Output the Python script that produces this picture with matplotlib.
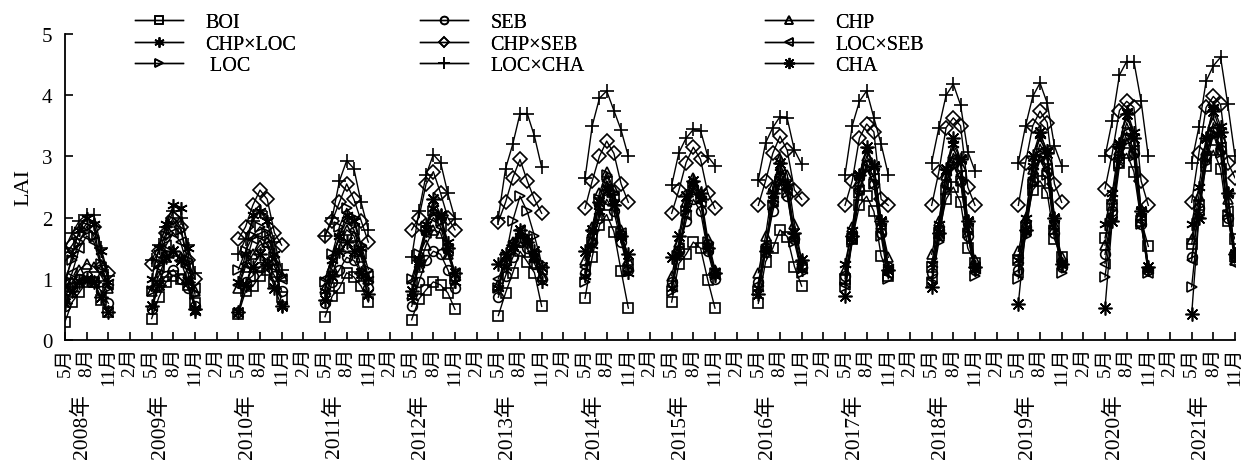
import numpy as np
import matplotlib.pyplot as plt
from matplotlib.transforms import blended_transform_factory

plt.rcParams['font.family'] = ['Liberation Serif', 'Noto Sans CJK SC']

years = list(range(2008, 2022))
months = [5, 6, 7, 8, 9, 10, 11]
tick_names = ['5月', '8月', '11月', '2月']

# LAI per year (May..Nov) for each treatment
BOI = [[0.30, 0.62, 0.78, 0.95, 0.95, 0.66, 0.45],
       [0.35, 0.70, 0.95, 1.05, 1.00, 0.90, 0.60],
       [0.42, 0.80, 0.88, 1.05, 1.15, 0.95, 0.70],
       [0.38, 0.72, 0.85, 1.10, 1.03, 0.88, 0.62],
       [0.33, 0.67, 0.82, 0.95, 0.90, 0.77, 0.50],
       [0.40, 0.77, 1.10, 1.45, 1.28, 1.10, 0.55],
       [0.68, 1.36, 1.88, 2.05, 1.77, 1.13, 0.52],
       [0.62, 1.25, 1.40, 1.60, 1.50, 0.98, 0.52],
       [0.60, 1.28, 1.50, 1.80, 1.69, 1.20, 0.88],
       [1.00, 1.65, 2.20, 2.35, 2.10, 1.38, 1.05],
       [1.20, 1.75, 2.30, 2.50, 2.25, 1.50, 1.26],
       [1.30, 1.85, 2.45, 2.60, 2.40, 1.65, 1.35],
       [1.67, 2.20, 2.90, 3.05, 2.75, 1.95, 1.53],
       [1.57, 2.20, 2.85, 3.10, 2.80, 1.95, 1.65]]
SEB = [[0.55, 0.85, 1.00, 1.05, 0.95, 0.80, 0.60],
       [0.50, 0.90, 1.05, 1.15, 1.00, 0.85, 0.55],
       [0.45, 0.95, 1.05, 1.20, 1.25, 1.05, 0.80],
       [0.60, 0.95, 1.15, 1.35, 1.30, 1.10, 0.85],
       [0.55, 0.95, 1.30, 1.45, 1.40, 1.15, 0.85],
       [0.70, 1.05, 1.35, 1.60, 1.50, 1.25, 1.00],
       [1.10, 1.60, 2.00, 2.30, 2.10, 1.60, 1.15],
       [0.95, 1.45, 1.95, 2.30, 2.10, 1.45, 1.00],
       [0.95, 1.50, 2.10, 2.55, 2.35, 1.65, 1.20],
       [1.05, 1.70, 2.45, 2.85, 2.55, 1.75, 1.20],
       [1.10, 1.80, 2.55, 2.90, 2.60, 1.70, 1.15],
       [1.15, 1.85, 2.60, 3.00, 2.75, 1.75, 1.20],
       [1.40, 2.10, 3.00, 3.30, 3.05, 1.90, 1.15],
       [1.35, 2.15, 3.00, 3.40, 3.10, 2.00, 1.35]]
CHP = [[0.70, 0.95, 1.15, 1.25, 1.20, 1.05, 0.85],
       [0.80, 1.05, 1.35, 1.45, 1.35, 1.10, 0.80],
       [0.85, 1.20, 1.40, 1.55, 1.60, 1.30, 1.05],
       [0.85, 1.20, 1.55, 1.80, 1.70, 1.35, 1.00],
       [0.75, 1.20, 1.55, 1.80, 1.75, 1.40, 1.05],
       [0.90, 1.30, 1.60, 1.75, 1.65, 1.35, 1.05],
       [1.30, 1.85, 2.40, 2.75, 2.45, 1.80, 1.30],
       [1.05, 1.60, 2.25, 2.65, 2.40, 1.65, 1.15],
       [1.10, 1.70, 2.50, 2.95, 2.70, 1.90, 1.30],
       [1.15, 1.85, 2.60, 3.00, 2.80, 1.90, 1.35],
       [1.40, 1.95, 2.70, 3.05, 2.85, 1.85, 1.30],
       [1.45, 2.00, 2.80, 3.20, 2.95, 1.90, 1.35],
       [1.55, 2.30, 3.10, 3.55, 3.25, 2.05, 1.20],
       [1.65, 2.35, 3.10, 3.55, 3.30, 2.30, 1.30]]
CHP_LOC = [[0.90, 1.40, 1.80, 2.00, 1.90, 1.45, 0.95],
           [1.00, 1.50, 1.90, 2.20, 2.15, 1.50, 0.45],
           [0.95, 1.40, 2.05, 2.10, 1.95, 1.40, 0.55],
           [0.80, 1.30, 1.70, 2.05, 1.95, 1.50, 1.00],
           [0.70, 1.25, 1.90, 2.15, 2.05, 1.60, 0.95],
           [0.85, 1.20, 1.50, 1.70, 1.60, 1.35, 0.95],
           [1.05, 1.55, 2.10, 2.50, 2.25, 1.70, 1.10],
           [0.85, 1.40, 2.15, 2.55, 2.30, 1.55, 1.05],
           [0.85, 1.50, 2.30, 2.75, 2.50, 1.70, 1.15],
           [1.25, 1.80, 2.70, 3.10, 2.85, 1.95, 1.20],
           [1.25, 1.90, 2.75, 3.20, 2.95, 1.95, 1.15],
           [1.30, 2.00, 2.85, 3.35, 3.10, 2.00, 1.25],
           [1.90, 2.40, 3.20, 3.75, 3.40, 2.10, 1.15],
           [1.90, 2.50, 3.30, 3.80, 3.50, 2.40, 1.40]]
CHP_SEB = [[1.40, 1.55, 1.75, 1.90, 1.85, 1.20, 1.10],
           [1.25, 1.45, 1.75, 2.00, 1.85, 1.30, 1.00],
           [1.65, 1.85, 2.20, 2.45, 2.30, 1.75, 1.55],
           [1.70, 1.95, 2.25, 2.55, 2.30, 1.95, 1.60],
           [1.80, 2.00, 2.55, 2.75, 2.40, 2.00, 1.80],
           [1.93, 2.25, 2.65, 2.95, 2.60, 2.30, 2.07],
           [2.15, 2.60, 3.00, 3.25, 3.05, 2.55, 2.25],
           [2.07, 2.45, 2.90, 3.15, 2.95, 2.40, 2.15],
           [2.20, 2.60, 3.05, 3.33, 3.10, 2.45, 2.30],
           [2.20, 2.60, 3.30, 3.53, 3.40, 2.30, 2.20],
           [2.20, 2.75, 3.47, 3.63, 3.50, 2.50, 2.20],
           [2.20, 2.90, 3.50, 3.74, 3.55, 2.55, 2.25],
           [2.47, 3.05, 3.75, 3.90, 3.80, 2.60, 2.20],
           [2.25, 3.05, 3.80, 3.98, 3.85, 2.90, 2.65]]
LOC_SEB = [[0.80, 1.10, 1.50, 1.70, 1.60, 1.20, 0.90],
           [0.85, 1.20, 1.55, 1.75, 1.60, 1.20, 0.85],
           [0.90, 1.25, 1.65, 1.70, 1.55, 1.20, 1.00],
           [1.00, 1.35, 1.70, 1.95, 1.80, 1.40, 1.05],
           [0.95, 1.30, 1.75, 2.00, 1.85, 1.45, 1.10],
           [1.00, 1.30, 1.60, 1.80, 1.65, 1.40, 1.15],
           [1.20, 1.70, 2.20, 2.60, 2.35, 1.75, 1.25],
           [0.90, 1.50, 2.05, 2.45, 2.25, 1.50, 1.10],
           [0.90, 1.55, 2.25, 2.65, 2.45, 1.65, 1.20],
           [0.90, 1.65, 2.45, 2.90, 2.65, 1.80, 1.10],
           [1.00, 1.70, 2.55, 2.95, 2.70, 1.80, 1.20],
           [1.10, 1.80, 2.65, 3.05, 2.80, 1.85, 1.25],
           [1.25, 2.05, 2.95, 3.40, 3.10, 1.95, 1.10],
           [1.30, 2.10, 3.00, 3.45, 3.15, 2.10, 1.25]]
LOC = [[1.00, 1.30, 1.60, 1.85, 1.70, 1.25, 0.85],
       [0.80, 1.25, 1.70, 1.95, 1.80, 1.30, 0.75],
       [1.15, 1.45, 1.70, 1.85, 1.75, 1.35, 1.05],
       [0.95, 1.40, 1.85, 2.15, 2.00, 1.55, 1.15],
       [1.00, 1.40, 1.85, 2.10, 1.95, 1.55, 1.00],
       [0.85, 1.35, 1.95, 2.35, 2.10, 1.70, 1.25],
       [0.95, 1.60, 2.30, 2.70, 2.40, 1.75, 1.15],
       [0.80, 1.40, 2.10, 2.50, 2.30, 1.60, 1.10],
       [0.80, 1.45, 2.20, 2.60, 2.40, 1.60, 1.10],
       [0.87, 1.60, 2.40, 2.80, 2.55, 1.70, 1.00],
       [0.95, 1.60, 2.45, 2.85, 2.60, 1.75, 1.05],
       [1.00, 1.70, 2.55, 2.95, 2.70, 1.80, 1.10],
       [1.03, 1.95, 2.85, 3.30, 3.00, 1.90, 1.10],
       [0.87, 2.00, 2.90, 3.35, 3.05, 2.05, 1.35]]
LOC_CHA = [[1.50, 1.75, 1.95, 2.05, 2.05, 1.50, 1.05],
           [1.30, 1.55, 1.85, 2.10, 2.00, 1.55, 1.10],
           [1.40, 1.65, 1.95, 2.10, 2.00, 1.60, 1.15],
           [1.70, 2.00, 2.60, 2.93, 2.80, 2.25, 1.80],
           [1.35, 2.10, 2.70, 3.03, 2.90, 2.40, 1.98],
           [2.00, 2.80, 3.20, 3.70, 3.70, 3.33, 2.82],
           [2.64, 3.50, 3.95, 4.07, 3.75, 3.43, 3.00],
           [2.53, 3.06, 3.30, 3.44, 3.42, 3.00, 2.85],
           [2.62, 3.22, 3.47, 3.65, 3.62, 3.10, 2.87],
           [2.70, 3.50, 3.90, 4.07, 3.63, 3.20, 2.70],
           [2.90, 3.47, 4.00, 4.18, 3.84, 3.08, 2.76],
           [2.90, 3.50, 3.98, 4.20, 3.87, 3.17, 2.85],
           [3.00, 3.58, 4.33, 4.55, 4.55, 3.90, 3.00],
           [2.90, 3.48, 4.23, 4.48, 4.62, 3.85, 3.00]]
CHA = [[0.60, 0.80, 0.95, 1.00, 0.95, 0.70, 0.45],
       [0.55, 0.90, 1.35, 1.45, 1.30, 0.95, 0.50],
       [0.45, 0.90, 1.20, 1.40, 1.25, 0.85, 0.55],
       [0.65, 1.05, 1.45, 1.60, 1.45, 1.10, 0.75],
       [0.80, 1.30, 1.80, 2.30, 2.05, 1.50, 1.10],
       [1.25, 1.40, 1.55, 1.80, 1.60, 1.45, 1.20],
       [1.45, 1.80, 2.25, 2.45, 2.20, 1.70, 1.40],
       [1.35, 1.70, 2.35, 2.60, 2.40, 1.50, 1.10],
       [0.75, 1.45, 2.40, 2.90, 2.55, 1.75, 1.30],
       [0.72, 1.70, 2.70, 3.15, 2.85, 1.95, 1.15],
       [0.87, 1.75, 2.80, 3.30, 2.95, 1.95, 1.20],
       [0.59, 1.80, 3.00, 3.40, 3.05, 2.00, 1.25],
       [0.52, 1.95, 3.20, 3.70, 3.30, 2.10, 1.20],
       [0.42, 2.00, 3.30, 3.75, 3.40, 2.40, 1.40]]

series = [
    ('BOI', BOI, 's', 7),
    ('SEB', SEB, 'o', 7),
    ('CHP', CHP, '^', 7.5),
    ('CHP×LOC', CHP_LOC, (6, 2, 0), 9),
    ('CHP×SEB', CHP_SEB, 'D', 7),
    ('LOC×SEB', LOC_SEB, '<', 7.5),
    (' LOC', LOC, '>', 7.5),
    ('LOC×CHA', LOC_CHA, '+', 10),
    ('CHA', CHA, (8, 2, 0), 10),
]

fig = plt.figure(figsize=(12.45, 4.64), dpi=100)
ax = fig.add_axes([65/1245, 1 - 341/464, 1170/1245, 306/464])

handles = {}
for name, data, mk, ms in series:
    for i, yr in enumerate(years):
        x = [(yr - 2008) * 12 + (m - 5) for m in months]
        ln, = ax.plot(x, data[i], color='black', lw=1.0, marker=mk, ms=ms,
                      mfc='none', mec='black', mew=1.2)
    handles[name] = ln

ax.set_xlim(0, 162)
ax.set_ylim(0, 5)
ax.set_yticks(range(6))
ticks = np.arange(0, 163, 3)
ax.set_xticks(ticks)
ax.set_xticklabels([tick_names[k % 4] for k in range(len(ticks))], rotation=90, fontsize=14)
ax.tick_params(axis='both', direction='in', length=6, width=1.2)
ax.tick_params(axis='y', labelsize=15, pad=9)
ax.tick_params(axis='x', pad=5)
for s in ['top', 'right']:
    ax.spines[s].set_visible(False)
for s in ['left', 'bottom']:
    ax.spines[s].set_linewidth(1.3)
ax.set_ylabel('LAI', fontsize=16, labelpad=6)

trans = blended_transform_factory(ax.transData, ax.transAxes)
for yr in years:
    xp = (yr - 2008) * 12 + (1.2 if yr > 2008 else 2.3)
    ax.text(xp, -0.175, f'{yr}年', rotation=90, ha='center', va='top',
            fontsize=15.5, transform=trans)

cols = [(['BOI', 'CHP×LOC', ' LOC'], 135),
        (['SEB', 'CHP×SEB', 'LOC×CHA'], 420),
        (['CHP', 'LOC×SEB', 'CHA'], 765)]
for names, xpx in cols:
    lg = fig.legend([handles[n] for n in names], names, loc='upper left',
                    bbox_to_anchor=(xpx/1245, 1 - 14/464), frameon=False,
                    fontsize=14.5, handlelength=2.4, handletextpad=1.1,
                    labelspacing=0.12, borderpad=0, borderaxespad=0, markerscale=0.8)
    fig.add_artist(lg)

fig.savefig('out.png', dpi=100)
